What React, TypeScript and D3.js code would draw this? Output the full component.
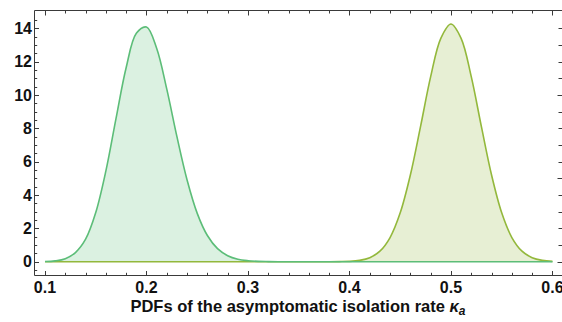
import React from "react";
import * as d3 from "d3";

// sample positions along the x axis (asymptomatic isolation rate)
const xs = [
  0.10, 0.11, 0.12, 0.13, 0.14, 0.15, 0.16, 0.17, 0.18, 0.19,
  0.20, 0.21, 0.22, 0.23, 0.24, 0.25, 0.26, 0.27, 0.28, 0.29,
  0.30, 0.31, 0.32, 0.33, 0.34, 0.35, 0.36, 0.37, 0.38, 0.39,
  0.40, 0.41, 0.42, 0.43, 0.44, 0.45, 0.46, 0.47, 0.48, 0.49,
  0.50, 0.51, 0.52, 0.53, 0.54, 0.55, 0.56, 0.57, 0.58, 0.59,
  0.60,
];

// PDF values (green curve, peak near 0.2)
const pdfGreen = [
  0.01, 0.05, 0.18, 0.55, 1.35, 2.95, 5.45, 8.6, 11.65, 13.7,
  14.08, 12.8, 10.35, 7.5, 4.9, 2.9, 1.57, 0.78, 0.36, 0.15,
  0.06, 0.02, 0.007, 0, 0, 0, 0, 0, 0, 0,
  0, 0, 0, 0, 0, 0, 0, 0, 0, 0,
  0, 0, 0, 0, 0, 0, 0, 0, 0, 0,
  0,
];

// PDF values (olive curve, peak near 0.5)
const pdfOlive = [
  0, 0, 0, 0, 0, 0, 0, 0, 0, 0,
  0, 0, 0, 0, 0, 0, 0, 0, 0, 0,
  0, 0, 0, 0, 0, 0, 0, 0, 0, 0.006,
  0.02, 0.08, 0.24, 0.63, 1.45, 2.93, 5.2, 8.1, 11.1, 13.4,
  14.26, 13.4, 11.1, 8.1, 5.2, 2.93, 1.45, 0.63, 0.24, 0.08,
  0.02,
];

const xTickValues = [0.1, 0.2, 0.3, 0.4, 0.5, 0.6];
const xTickLabels = ["0.1", "0.2", "0.3", "0.4", "0.5", "0.6"];
const yTickValues = [0, 2, 4, 6, 8, 10, 12, 14];
const yTickLabels = ["0", "2", "4", "6", "8", "10", "12", "14"];

const GREEN = "#5cbd78";
const OLIVE = "#93b83c";
const FRAME = "#3a3a3a";
const FONT = "'Liberation Sans', Arial, Helvetica, sans-serif";

export default function App() {
  const W = 562;
  const H = 322;
  const fl = 34.5, ft = 10.5, fr = 562.5, fb = 275.5;

  const x = d3.scaleLinear().domain([0.09, 0.61]).range([34.85, 562.6]);
  const y = d3.scaleLinear().domain([0, 14]).range([261.7, 28.35]);

  const line = d3
    .line<number>()
    .x((_, i) => x(xs[i]))
    .y((d) => y(d))
    .curve(d3.curveCatmullRom.alpha(0.5));
  const area = d3
    .area<number>()
    .x((_, i) => x(xs[i]))
    .y0(() => y(0))
    .y1((d) => y(d))
    .curve(d3.curveCatmullRom.alpha(0.5));

  // minor ticks
  const xMinor: number[] = [];
  for (let k = 10; k <= 60; k += 2) {
    if (k % 10 !== 0) xMinor.push(k / 100);
  }
  const yMinor: number[] = [];
  for (let k = -1; k <= 29; k++) {
    if (k % 4 !== 0) yMinor.push(k / 2);
  }
  const yRight: number[] = [];
  for (let k = 0; k <= 14; k++) yRight.push(k);

  return (
    <div style={{ position: "absolute", left: 0, top: 0 }}>
      <svg width={W} height={H} style={{ display: "block", background: "#fff" }}>
        {/* fills */}
        <path d={area(pdfOlive) || ""} fill={OLIVE} fillOpacity={0.22} stroke="none" />
        <path d={area(pdfGreen) || ""} fill={GREEN} fillOpacity={0.22} stroke="none" />
        {/* lines */}
        <path d={line(pdfOlive) || ""} fill="none" stroke={OLIVE} strokeWidth={1.6} />
        <path d={line(pdfGreen) || ""} fill="none" stroke={GREEN} strokeWidth={1.6} />

        {/* frame */}
        <g stroke={FRAME} strokeWidth={1} fill="none">
          <line x1={fl} y1={ft} x2={fr} y2={ft} />
          <line x1={fl} y1={fb} x2={fr} y2={fb} />
          <line x1={fl} y1={ft} x2={fl} y2={fb} />
          {/* x ticks bottom & top */}
          {xTickValues.map((v) => (
            <g key={"xm" + v}>
              <line x1={Math.round(x(v)) + 0.5} x2={Math.round(x(v)) + 0.5} y1={fb} y2={fb - 4.5} />
              <line x1={Math.round(x(v)) + 0.5} x2={Math.round(x(v)) + 0.5} y1={ft} y2={ft + 5} />
            </g>
          ))}
          {xMinor.map((v) => (
            <g key={"xn" + v}>
              <line x1={Math.round(x(v)) + 0.5} x2={Math.round(x(v)) + 0.5} y1={fb} y2={fb - 2.7} />
              <line x1={Math.round(x(v)) + 0.5} x2={Math.round(x(v)) + 0.5} y1={ft} y2={ft + 3} />
            </g>
          ))}
          {/* y ticks left */}
          {yTickValues.map((v) => (
            <line key={"ym" + v} x1={fl} x2={fl + 4.5} y1={Math.round(y(v)) + 0.5} y2={Math.round(y(v)) + 0.5} />
          ))}
          {yMinor.map((v) => (
            <line key={"yn" + v} x1={fl} x2={fl + 2.7} y1={Math.round(y(v)) + 0.5} y2={Math.round(y(v)) + 0.5} />
          ))}
          {/* y ticks right (frame edge itself falls just outside the picture) */}
          {yRight.map((v) => (
            <line
              key={"yr" + v}
              x1={562.5}
              x2={562.5 - (v % 5 === 0 ? 5 : 4)}
              y1={Math.round(y(v)) + 0.5}
              y2={Math.round(y(v)) + 0.5}
            />
          ))}
        </g>

        {/* tick labels */}
        <g fontFamily={FONT} fontWeight="bold" fontSize={16} fill="#111">
          {xTickValues.map((v, i) => (
            <text key={"xl" + v} x={x(v)} y={292.5} textAnchor="middle">
              {xTickLabels[i]}
            </text>
          ))}
          {yTickValues.map((v, i) => (
            <text key={"yl" + v} x={32} y={y(v)} dy="0.36em" textAnchor="end">
              {yTickLabels[i]}
            </text>
          ))}
        </g>

        {/* axis title */}
        <text x={298} y={312} textAnchor="middle" fontFamily={FONT} fontWeight="bold" fontSize={16.5} fill="#111">
          PDFs of the asymptomatic isolation rate{" "}
          <tspan fontStyle="italic">κ</tspan>
          <tspan fontStyle="italic" fontSize={12} dy={3}>a</tspan>
        </text>
      </svg>
    </div>
  );
}
